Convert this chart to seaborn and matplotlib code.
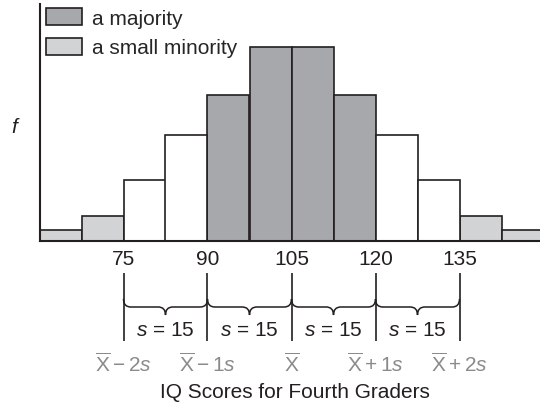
import numpy as np
import pandas as pd
import matplotlib
matplotlib.use("Agg")
import matplotlib.pyplot as plt
from matplotlib.patches import Patch, PathPatch
from matplotlib.path import Path
from matplotlib.transforms import blended_transform_factory
import seaborn as sns

# ---- data ----
bin_edges = [60, 67.5, 75, 82.5, 90, 97.5, 105, 112.5, 120, 127.5, 135, 142.5, 150]
frequencies = [11, 25, 61, 106, 146, 194, 194, 146, 106, 61, 25, 11]
groups = ["minority", "minority", "other", "other", "majority", "majority",
          "majority", "majority", "other", "other", "minority", "minority"]
tick_values = [75, 90, 105, 120, 135]
tick_labels = ["75", "90", "105", "120", "135"]
sd_labels = [r"$\overline{\mathrm{X}} - 2s$", r"$\overline{\mathrm{X}} - 1s$",
             r"$\overline{\mathrm{X}}$", r"$\overline{\mathrm{X}} + 1s$",
             r"$\overline{\mathrm{X}} + 2s$"]
sd_value = 15
legend_labels = {"majority": "a majority", "minority": "a small minority"}
x_title = "IQ Scores for Fourth Graders"
y_title = "f"

palette = {"majority": "#a7a8ab", "minority": "#d2d3d5", "other": "#ffffff"}
edge = "#231f20"
grey_text = "#8a8a8a"

sns.set_style("white")
plt.rcParams["font.family"] = ["Liberation Sans", "DejaVu Sans"]
plt.rcParams["mathtext.fontset"] = "custom"
plt.rcParams["mathtext.rm"] = "Liberation Sans"
plt.rcParams["mathtext.it"] = "Liberation Sans:italic"
plt.rcParams["mathtext.bf"] = "Liberation Sans:bold"

centers = [(a + b) / 2 for a, b in zip(bin_edges[:-1], bin_edges[1:])]
df = pd.DataFrame({"score": centers, "freq": frequencies, "group": groups})

W, H = 540, 410
fig = plt.figure(figsize=(W / 100, H / 100), dpi=100)
ax = fig.add_axes([39.5 / W, 1 - 242 / H, 1 - 39.5 / W, 237 / H])

sns.histplot(data=df, x="score", weights="freq", hue="group",
             hue_order=["other", "majority", "minority"], palette=palette,
             bins=bin_edges, multiple="layer", element="bars", fill=True,
             alpha=1, edgecolor=edge, linewidth=1.2, legend=False, ax=ax)

bar_w = bin_edges[1] - bin_edges[0]
ax.set_xlim(bin_edges[0], bin_edges[0] + (W - 39.5) / 42 * bar_w)
ax.set_ylim(0, 237)
ax.set_yticks([])
ax.set_xticks(tick_values)
ax.set_xticklabels(tick_labels, fontsize=15, color="#231f20")
ax.tick_params(axis="x", length=0, pad=6)
for s in ["top", "right"]:
    ax.spines[s].set_visible(False)
for s in ["left", "bottom"]:
    ax.spines[s].set_color(edge)
    ax.spines[s].set_linewidth(1.5)

ax.set_xlabel("")
ax.set_ylabel(y_title, rotation=0, fontsize=15, fontstyle="italic",
              ha="center", va="center", color="#231f20")
ax.yaxis.set_label_coords((14 - 39.5) / (W - 39.5), (242 - 128) / 237)

# legend
handles = [Patch(facecolor=palette[k], edgecolor=edge, linewidth=1.2, label=v)
           for k, v in legend_labels.items()]
ax.legend(handles=handles, loc="upper left",
          bbox_to_anchor=(46 / W, 1 - 9 / H), bbox_transform=fig.transFigure,
          frameon=False, fontsize=15, handlelength=1.75, handleheight=0.85,
          handletextpad=0.45, labelspacing=0.5, borderpad=0, borderaxespad=0)

# annotations below the axis
tr = blended_transform_factory(ax.transData, fig.transFigure)
fy = lambda px: 1 - px / H

for xv in tick_values:
    ax.plot([xv, xv], [fy(274), fy(342)], transform=tr, color=edge,
            lw=1.2, clip_on=False, solid_capstyle="butt")


def brace(x0, x1, ytop, ymid, ytip, d):
    xm = (x0 + x1) / 2
    verts = [(x0, fy(ytop)),
             (x0, fy(ymid)), (x0 + d, fy(ymid)),
             (xm - d, fy(ymid)),
             (xm, fy(ymid)), (xm, fy(ytip)),
             (xm, fy(ymid)), (xm + d, fy(ymid)),
             (x1 - d, fy(ymid)),
             (x1, fy(ymid)), (x1, fy(ytop))]
    codes = [Path.MOVETO, Path.CURVE3, Path.CURVE3, Path.LINETO,
             Path.CURVE3, Path.CURVE3, Path.CURVE3, Path.CURVE3,
             Path.LINETO, Path.CURVE3, Path.CURVE3]
    p = PathPatch(Path(verts, codes), transform=tr, fill=False,
                  edgecolor=edge, lw=1.1, clip_on=False)
    fig.add_artist(p)


for a, b in zip(tick_values[:-1], tick_values[1:]):
    brace(a, b, 300, 308, 316, 1.3)
    ax.text((a + b) / 2, fy(330), r"$s$ = " + str(sd_value), transform=tr,
            ha="center", va="center", fontsize=15, color="#231f20")

for xv, lab in zip(tick_values, sd_labels):
    ax.text(xv, fy(364), lab, transform=tr, ha="center", va="center",
            fontsize=15, color=grey_text)

fig.text(295 / W, fy(393), x_title, ha="center", va="center", fontsize=15,
         color="#231f20")

fig.savefig("out.png", dpi=100)
